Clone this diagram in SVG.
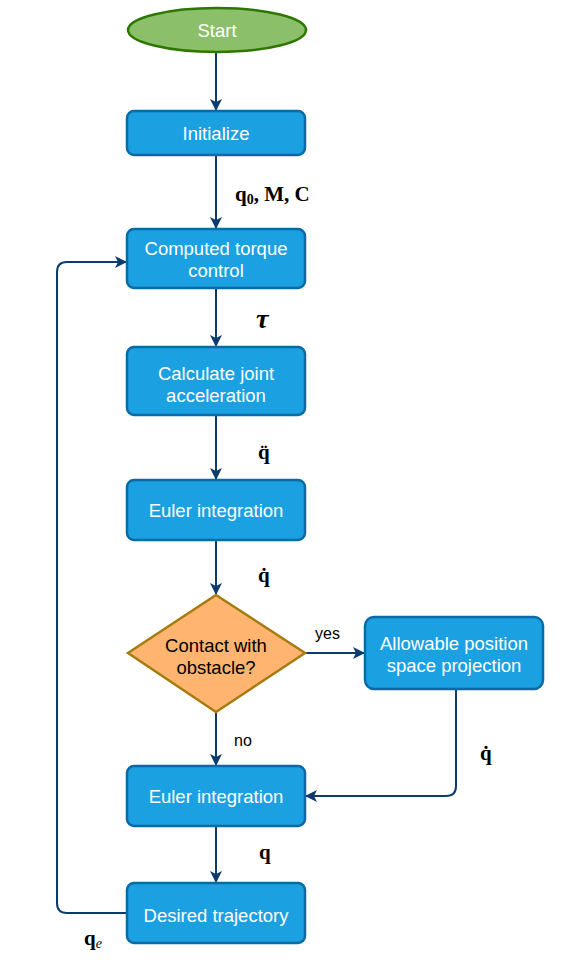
<svg xmlns="http://www.w3.org/2000/svg" width="579" height="962" viewBox="0 0 579 962">
<defs>
<marker id="arr" viewBox="0 0 12 12" refX="11" refY="6" markerWidth="12" markerHeight="12" markerUnits="userSpaceOnUse" orient="auto">
<path d="M0,0 L12,6 L0,12 L3,6 Z" fill="#0d3b6e"/>
</marker>
<style>
.box{fill:#1ba1e2;stroke:#0a6aa6;stroke-width:2.5}
.bt{font-family:"Liberation Sans",Arial,sans-serif;font-size:18.5px;fill:#ffffff;text-anchor:middle}
.lt{font-family:"Liberation Sans",Arial,sans-serif;font-size:16px;fill:#000}
.m{font-family:"Liberation Serif","Times New Roman",serif;font-size:21px;font-weight:bold;fill:#000}
.c{fill:none;stroke:#0d3b6e;stroke-width:2;marker-end:url(#arr)}
</style>
</defs>
<rect width="579" height="962" fill="#fff"/>
<g id="connectors">
<path class="c" d="M216,52 V110"/>
<path class="c" d="M216,155 V228"/>
<path class="c" d="M216,288 V346"/>
<path class="c" d="M216,415 V479"/>
<path class="c" d="M216,540 V594"/>
<path class="c" d="M305,653 H364"/>
<path class="c" d="M216,712 V765"/>
<path class="c" d="M456,690 V786 Q456,796 446,796 H306"/>
<path class="c" d="M216,826 V882"/>
<path class="c" d="M127,913 H67 Q57,913 57,903 V272 Q57,262 67,262 H126"/>
</g>
<g id="start">
<ellipse cx="217" cy="30" rx="89" ry="22" fill="#8cbf6a" stroke="#2d7600" stroke-width="2.5"/>
<text class="bt" x="217" y="37">Start</text>
</g>
<g id="initialize">
<rect class="box" x="127" y="111" width="178" height="44" rx="7"/>
<text class="bt" x="216" y="140">Initialize</text>
</g>
<g id="torque">
<rect class="box" x="127" y="229" width="178" height="59" rx="7"/>
<text class="bt" x="216" y="255">Computed torque</text>
<text class="bt" x="216" y="277">control</text>
</g>
<g id="accel">
<rect class="box" x="127" y="347" width="178" height="68" rx="7"/>
<text class="bt" x="216" y="380">Calculate joint</text>
<text class="bt" x="216" y="402">acceleration</text>
</g>
<g id="euler1">
<rect class="box" x="127" y="480" width="178" height="60" rx="7"/>
<text class="bt" x="216" y="517">Euler integration</text>
</g>
<g id="contact">
<polygon points="216,595 305,653 216,712 128,653" fill="#ffb570" stroke="#a67c10" stroke-width="2.5"/>
<text class="bt" x="216" y="652" style="fill:#000">Contact with</text>
<text class="bt" x="216" y="674" style="fill:#000">obstacle?</text>
</g>
<g id="projection">
<rect class="box" x="365" y="617" width="178" height="72" rx="9"/>
<text class="bt" x="454" y="650">Allowable position</text>
<text class="bt" x="454" y="672">space projection</text>
</g>
<g id="euler2">
<rect class="box" x="127" y="766" width="178" height="60" rx="7"/>
<text class="bt" x="216" y="803">Euler integration</text>
</g>
<g id="desired">
<rect class="box" x="127" y="883" width="178" height="60" rx="7"/>
<text class="bt" x="216" y="922">Desired trajectory</text>
</g>
<g id="labels">
<text class="m" x="235" y="201">q<tspan font-size="14" dy="3">0</tspan><tspan dy="-3">, M, C</tspan></text>
<text class="m" x="256" y="328" style="font-style:italic;font-size:28px">τ</text>
<text class="m" x="258" y="459">q̈</text>
<text class="m" x="258" y="582">q̇</text>
<text class="lt" x="315" y="639">yes</text>
<text class="lt" x="234" y="746">no</text>
<text class="m" x="480" y="760">q̇</text>
<text class="m" x="259" y="859">q</text>
<text class="m" x="84" y="945">q<tspan font-size="14" font-style="italic" font-weight="normal" dy="3">e</tspan></text>
</g>
</svg>
